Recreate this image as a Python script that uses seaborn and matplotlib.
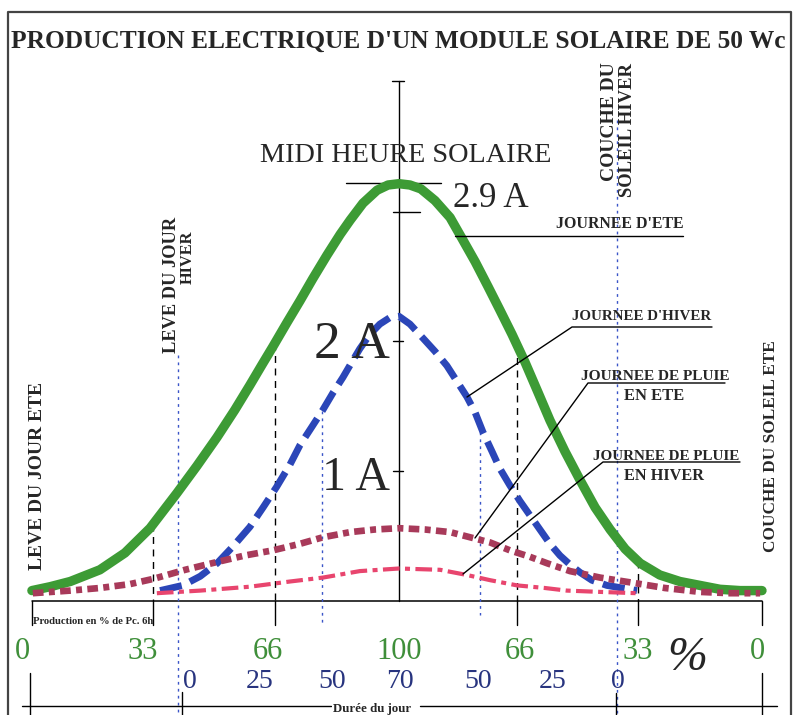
import numpy as np
import seaborn as sns
import matplotlib.pyplot as plt
from matplotlib.lines import Line2D

W, H = 797, 715
PX_PER_HOUR = 45.6   # horizontal scale of the drawing (px per hour)
PX_PER_AMP = 130.0   # vertical scale (px per amp)
NOON_PX, BASE_PX = 399, 601

# --- curves: hours from solar noon / current in A ---
ete_h = [-8.05, -7.65, -7.21, -6.56, -6.01, -5.46, -4.87, -4.43, -3.99, -3.60, -3.27, -3.00,
         -2.76, -2.46, -2.17, -1.89, -1.58, -1.29, -1.07, -0.79, -0.48, -0.24, 0.0,
         0.24, 0.48, 0.79, 1.12, 1.38, 1.67, 1.95, 2.21, 2.48, 2.76, 3.03, 3.31, 3.64,
         3.97, 4.30, 4.63, 4.96, 5.29, 5.72, 6.16, 6.60, 7.04, 7.48, 7.96]
ete_a = [0.08, 0.11, 0.15, 0.24, 0.37, 0.56, 0.83, 1.04, 1.26, 1.47, 1.66, 1.82,
         1.96, 2.14, 2.31, 2.48, 2.66, 2.82, 2.93, 3.06, 3.16, 3.20, 3.21,
         3.20, 3.17, 3.08, 2.95, 2.79, 2.61, 2.42, 2.24, 2.05, 1.84, 1.62, 1.39, 1.15,
         0.93, 0.72, 0.55, 0.40, 0.29, 0.20, 0.15, 0.12, 0.09, 0.08, 0.08]

hiver_h = [-5.24, -4.74, -4.36, -3.99, -3.64, -3.27, -2.98, -2.68, -2.39, -2.17, -1.91, -1.67,
           -1.45, -1.23, -1.03, -0.86, -0.64, -0.42, -0.20, 0.0,
           0.24, 0.53, 0.79, 1.05, 1.27, 1.49, 1.67, 1.84, 2.04, 2.21, 2.43, 2.65, 2.87,
           3.09, 3.31, 3.53, 3.75, 3.97, 4.23, 4.56, 4.89, 5.22]
hiver_a = [0.08, 0.12, 0.19, 0.29, 0.42, 0.57, 0.72, 0.88, 1.05, 1.20, 1.34, 1.47,
           1.60, 1.72, 1.84, 1.94, 2.05, 2.13, 2.18, 2.19,
           2.13, 2.02, 1.92, 1.81, 1.69, 1.57, 1.45, 1.30, 1.15, 1.02, 0.89, 0.77, 0.66,
           0.55, 0.44, 0.35, 0.28, 0.22, 0.16, 0.12, 0.10, 0.08]

pluie_ete_h = [-8.03, -7.21, -6.56, -5.90, -5.39, -4.69, -3.99, -3.38, -2.76, -2.17, -1.67, -1.07,
               -0.53, 0.0, 0.57, 1.12, 1.56, 2.00, 2.43, 2.87, 3.25, 3.75, 4.41, 5.13,
               5.83, 6.60, 7.26, 7.92]
pluie_ete_a = [0.06, 0.08, 0.10, 0.13, 0.17, 0.24, 0.30, 0.35, 0.39, 0.44, 0.49, 0.53,
               0.55, 0.56, 0.55, 0.53, 0.49, 0.45, 0.39, 0.34, 0.29, 0.23, 0.18, 0.14,
               0.10, 0.07, 0.06, 0.06]

pluie_hiver_h = [-5.31, -4.36, -3.27, -2.39, -1.67, -0.86, 0.0, 0.90, 1.49, 2.00, 2.59, 3.20,
                 3.68, 4.41, 5.22]
pluie_hiver_a = [0.06, 0.08, 0.11, 0.15, 0.18, 0.23, 0.25, 0.24, 0.20, 0.16, 0.12, 0.10,
                 0.08, 0.07, 0.06]

# --- scales under the curves ---
ete_tick_h = [-8.05, -5.39, -2.72, 2.59, 5.24, 7.96]
ete_label_h = [-8.25, -5.61, -2.87, 0.0, 2.65, 5.24, 7.85]
ete_labels = ["0", "33", "66", "100", "66", "33", "0"]

hiver_line_h = [-4.85, -1.69, 1.78, 4.78]
hiver_label_h = [-4.58, -3.05, -1.47, 0.02, 1.73, 3.36, 4.80]
hiver_labels = ["0", "25", "50", "70", "50", "25", "0"]

amp_ticks = [1.0, 2.0, 2.99]

GREEN, BLUE, MAROON, PINK = "#3d9b35", "#2b46b8", "#a83a5a", "#e8456e"
NUM_GREEN, NUM_BLUE, DOT_BLUE = "#3f8f3a", "#28347f", "#3b55c8"

sns.set_style("white")
plt.rcParams["font.family"] = ["Liberation Serif", "DejaVu Serif"]

fig = plt.figure(figsize=(W / 100, H / 100), dpi=100)
ax = fig.add_axes([0, 0, 1, 1])
ax.set_xlim(-NOON_PX / PX_PER_HOUR, (W - NOON_PX) / PX_PER_HOUR)
ax.set_ylim((BASE_PX - H) / PX_PER_AMP, BASE_PX / PX_PER_AMP)
ax.axis("off")
y_bot = (BASE_PX - H) / PX_PER_AMP


def seg(xs, ys, **kw):
    """line in figure pixel coords (origin top-left)"""
    kw.setdefault("color", "black")
    kw.setdefault("lw", 1)
    fig.add_artist(Line2D([x / W for x in xs], [1 - y / H for y in ys],
                          transform=fig.transFigure, **kw))


texts = []


def label(s, x, y, size, maxlen, **kw):
    kw.setdefault("ha", "center")
    kw.setdefault("va", "baseline")
    t = fig.text(x / W, 1 - y / H, s, fontsize=size, **kw)
    texts.append((t, maxlen))
    return t


# frame
seg([8, 8, 791, 791], [715, 12, 12, 715], color="#444444", lw=1.6)

# guide lines in data coords
ax.plot([ete_tick_h[0], ete_tick_h[-1]], [0, 0], color="black", lw=1.1)
ax.plot([0, 0], [0, 4.0], color="black", lw=1.0)
ax.plot([-0.15, 0.11], [4.0, 4.0], color="black", lw=1.0)
ax.plot([-1.16, 0.92], [3.215, 3.215], color="black", lw=1.0)
for a in amp_ticks:
    ax.plot([-0.13, 0.09 if a < 2.5 else 0.46], [a, a], color="black", lw=1.0)

ete_tops = np.interp(ete_tick_h, ete_h, ete_a)
for h, top in zip(ete_tick_h, ete_tops):
    if abs(h) < 7:
        ax.plot([h, h], [top, 0], color="black", lw=1.0, linestyle=(0, (5, 4)))
    ax.plot([h, h], [0, -0.185], color="black", lw=1.0)

hiver_tops = [1.89, np.interp(-1.69, hiver_h, hiver_a), np.interp(1.78, hiver_h, hiver_a), 3.70]
hiver_bots = [y_bot, -0.17, -0.11, y_bot]
for h, top, bot in zip(hiver_line_h, hiver_tops, hiver_bots):
    ax.plot([h, h], [top, bot], color=DOT_BLUE, lw=1.0, linestyle=(0, (2, 3)))

# curves
sns.lineplot(x=ete_h, y=ete_a, ax=ax, color=GREEN, lw=6.8, sort=False,
             solid_capstyle="round", solid_joinstyle="round")
sns.lineplot(x=hiver_h, y=hiver_a, ax=ax, color=BLUE, lw=5, sort=False,
             linestyle=(0, (3.2, 1.3)))
sns.lineplot(x=pluie_ete_h, y=pluie_ete_a, ax=ax, color=MAROON, lw=4.8, sort=False,
             linestyle=(0, (1.6, 0.8, 0.9, 0.8)))
sns.lineplot(x=pluie_hiver_h, y=pluie_hiver_a, ax=ax, color=PINK, lw=3.0, sort=False,
             linestyle=(0, (4.0, 1.3, 1.2, 1.3)))

# leaders and underlines
seg([455, 683], [236, 236])
seg([467, 572, 712], [397, 327, 327])
seg([475, 588, 725], [538, 383, 383])
seg([463, 603, 740], [574, 462, 462])

# bottom "Durée du jour" scale
ax.plot([-8.27, -1.5], [-0.81, -0.81], color="black", lw=1.0)
ax.plot([0.45, 8.29], [-0.81, -0.81], color="black", lw=1.0)
for h, top in zip([-8.09, -4.76, 4.76, 7.96], [-0.55, -0.70, -0.71, -0.55]):
    ax.plot([h, h], [top, y_bot], color="black", lw=1.0)

# scale labels
for h, s in zip(ete_label_h, ete_labels):
    ax.text(h, (BASE_PX - 659) / PX_PER_AMP, s, color=NUM_GREEN, fontsize=22,
            ha="center", va="baseline")
for h, s in zip(hiver_label_h, hiver_labels):
    ax.text(h, (BASE_PX - 688) / PX_PER_AMP, s, color=NUM_BLUE, fontsize=20,
            ha="center", va="baseline")

# texts
label("PRODUCTION ELECTRIQUE D'UN MODULE SOLAIRE DE 50 Wc", 398, 48, 28, 773, fontweight="bold")
label("MIDI HEURE SOLAIRE", 406, 162, 27, 292)
label("2.9 A", 453, 207, 32, 76, ha="left")
label("2 A", 352, 358, 43, 76)
label("1 A", 356, 490, 43, 68)
label("JOURNEE D'ETE", 620, 228, 16, 128, fontweight="bold")
label("JOURNEE D'HIVER", 642, 320, 16, 140, fontweight="bold")
label("JOURNEE DE PLUIE", 655, 380, 16, 150, fontweight="bold")
label("EN ETE", 654, 400, 16, 60, fontweight="bold")
label("JOURNEE DE PLUIE", 666, 460, 16, 148, fontweight="bold")
label("EN HIVER", 664, 480, 16, 80, fontweight="bold")
label("%", 687, 670, 36, 40, style="italic")
label("Durée du jour", 372, 712, 11, 78, fontweight="bold",
      bbox=dict(facecolor="white", edgecolor="none", pad=1))
label("Production en % de Pc. 6h", 33, 624, 8, 120, ha="left", fontweight="bold")

vkw = dict(rotation=90, va="center", fontweight="bold")
label("LEVE DU JOUR ETE", 38, 476, 14, 192, **vkw)
label("LEVE DU JOUR", 172, 285, 14, 136, **vkw)
label("HIVER", 188, 257, 14, 54, **vkw)
label("COUCHE DU", 609, 122, 14, 123, **vkw)
label("SOLEIL HIVER", 628, 130, 14, 135, **vkw)
label("COUCHE DU SOLEIL ETE", 771, 446, 14, 212, **vkw)

# shrink any text wider than its slot in the reference
r = fig.canvas.get_renderer()
for t, maxlen in texts:
    bb = t.get_window_extent(r)
    span = bb.height if t.get_rotation() == 90 else bb.width
    if span > maxlen:
        t.set_fontsize(t.get_fontsize() * maxlen / span)

fig.savefig("out.png", dpi=100, facecolor="white")
